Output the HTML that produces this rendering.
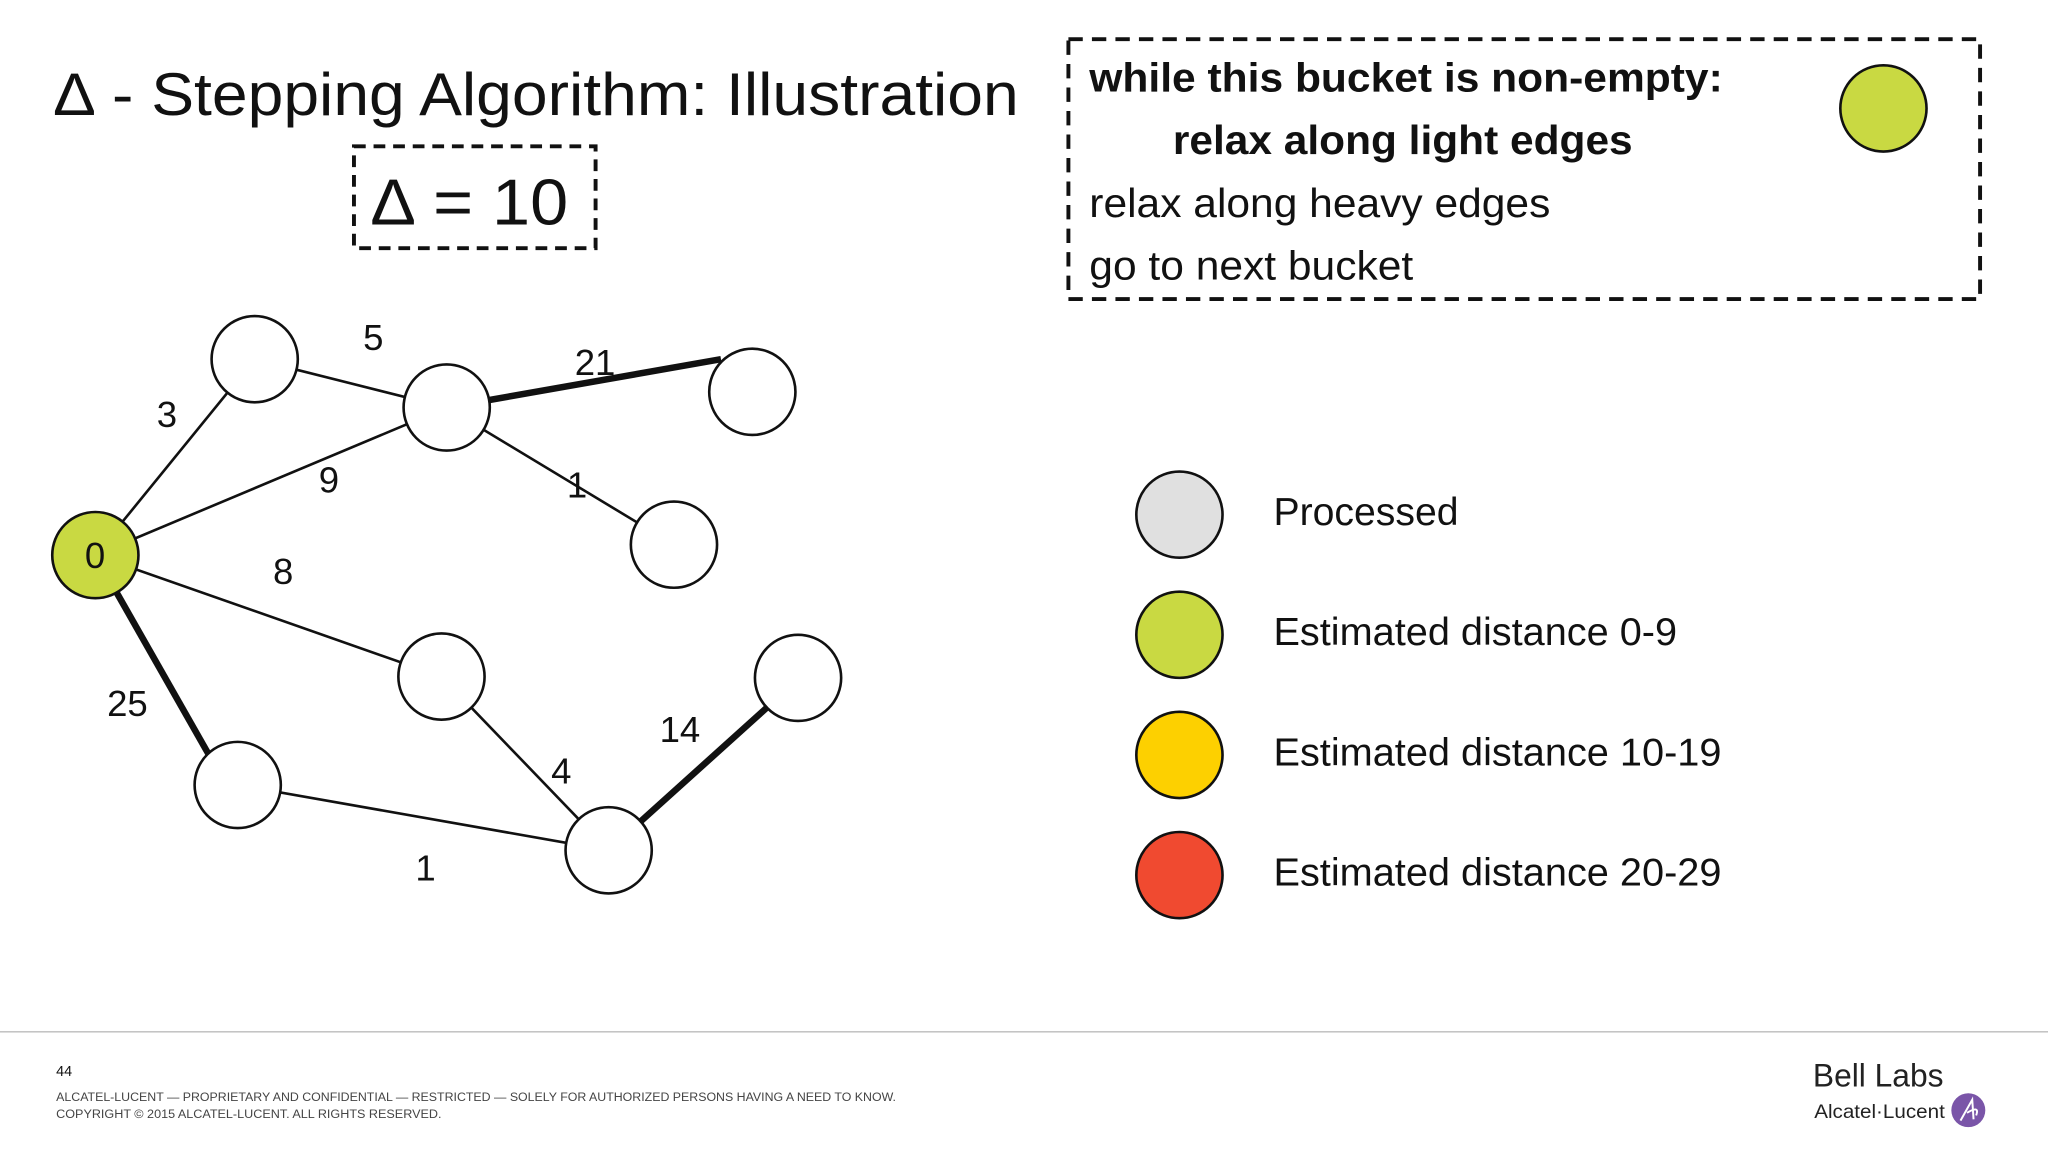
<!DOCTYPE html>
<html><head><meta charset="utf-8"><style>
html,body{margin:0;padding:0;background:#fff;}
svg{display:block;}
text{font-family:"Liberation Sans",Arial,sans-serif;fill:#111;}
</style></head><body>
<svg width="2048" height="1152" viewBox="0 0 1568 882" xmlns="http://www.w3.org/2000/svg">
<rect width="1568" height="882" fill="#fff"/>
<text x="42" y="88" font-size="46" textLength="738" lengthAdjust="spacingAndGlyphs">∆ - Stepping Algorithm: Illustration</text>
<rect x="271" y="112" width="185" height="78" fill="none" stroke="#111" stroke-width="3" stroke-dasharray="9,6"/>
<text x="285" y="172" font-size="50" textLength="150" lengthAdjust="spacingAndGlyphs">∆ = 10</text>
<rect x="818" y="30" width="698" height="199" fill="none" stroke="#111" stroke-width="3" stroke-dasharray="11,7"/>
<text x="834" y="70" font-size="31" font-weight="bold" textLength="485" lengthAdjust="spacingAndGlyphs">while this bucket is non-empty:</text>
<text x="898" y="118" font-size="31" font-weight="bold" textLength="352" lengthAdjust="spacingAndGlyphs">relax along light edges</text>
<text x="834" y="166" font-size="31" textLength="353" lengthAdjust="spacingAndGlyphs">relax along heavy edges</text>
<text x="834" y="214" font-size="31" textLength="248" lengthAdjust="spacingAndGlyphs">go to next bucket</text>
<circle cx="1442" cy="83" r="33" fill="#c9d942" stroke="#111" stroke-width="2"/>
<g stroke="#111" stroke-width="2">
<line x1="73" y1="425" x2="195" y2="275"/>
<line x1="195" y1="275" x2="342" y2="312"/>
<line x1="73" y1="425" x2="342" y2="312"/>
<line x1="342" y1="312" x2="516" y2="417"/>
<line x1="73" y1="425" x2="338" y2="518"/>
<line x1="338" y1="518" x2="466" y2="651"/>
<line x1="182" y1="601" x2="466" y2="651"/>
</g>
<g stroke="#111" stroke-width="5">
<line x1="342" y1="312" x2="552" y2="275"/>
<line x1="73" y1="425" x2="160" y2="578"/>
<line x1="466" y1="651" x2="588" y2="541"/>
</g>
<g stroke="#111" stroke-width="2" fill="#fff">
<circle cx="195" cy="275" r="33"/>
<circle cx="342" cy="312" r="33"/>
<circle cx="576" cy="300" r="33"/>
<circle cx="516" cy="417" r="33"/>
<circle cx="338" cy="518" r="33"/>
<circle cx="611" cy="519" r="33"/>
<circle cx="182" cy="601" r="33"/>
<circle cx="466" cy="651" r="33"/>
<circle cx="73" cy="425" r="33" fill="#c9d942"/>
</g>
<g font-size="28">
<text x="65" y="435">0</text>
<text x="278" y="268">5</text>
<text x="120" y="327">3</text>
<text x="440" y="287">21</text>
<text x="244" y="377">9</text>
<text x="434" y="381">1</text>
<text x="209" y="447">8</text>
<text x="82" y="548">25</text>
<text x="505" y="568">14</text>
<text x="422" y="600">4</text>
<text x="318" y="674">1</text>
</g>
<g stroke="#111" stroke-width="2">
<circle cx="903" cy="394" r="33" fill="#e0e0e0"/>
<circle cx="903" cy="486" r="33" fill="#c9d942"/>
<circle cx="903" cy="578" r="33" fill="#fdd000"/>
<circle cx="903" cy="670" r="33" fill="#f04a30"/>
</g>
<g font-size="30">
<text x="975" y="402">Processed</text>
<text x="975" y="494" textLength="309" lengthAdjust="spacingAndGlyphs">Estimated distance 0-9</text>
<text x="975" y="586" textLength="343" lengthAdjust="spacingAndGlyphs">Estimated distance 10-19</text>
<text x="975" y="678" textLength="343" lengthAdjust="spacingAndGlyphs">Estimated distance 20-29</text>
</g>
<line x1="0" y1="790" x2="1568" y2="790" stroke="#bbb" stroke-width="1"/>
<text x="43" y="824" font-size="11">44</text>
<text x="43" y="843" font-size="9.5" style="fill:#444" textLength="643" lengthAdjust="spacingAndGlyphs">ALCATEL-LUCENT — PROPRIETARY AND CONFIDENTIAL — RESTRICTED — SOLELY FOR AUTHORIZED PERSONS HAVING A NEED TO KNOW.</text>
<text x="43" y="856" font-size="9.5" style="fill:#444" textLength="295" lengthAdjust="spacingAndGlyphs">COPYRIGHT © 2015 ALCATEL-LUCENT. ALL RIGHTS RESERVED.</text>
<text x="1388" y="832" font-size="25" style="fill:#222" textLength="100" lengthAdjust="spacingAndGlyphs">Bell Labs</text>
<text x="1389" y="856" font-size="15" style="fill:#222" textLength="100" lengthAdjust="spacingAndGlyphs">Alcatel·Lucent</text>
<circle cx="1507" cy="850" r="13" fill="#7a55a8"/>
<path d="M1501 858 L1510 842 L1511 857 M1506 852 Q1516 846 1513 854" stroke="#fff" stroke-width="1.5" fill="none"/>
</svg>
</body></html>
